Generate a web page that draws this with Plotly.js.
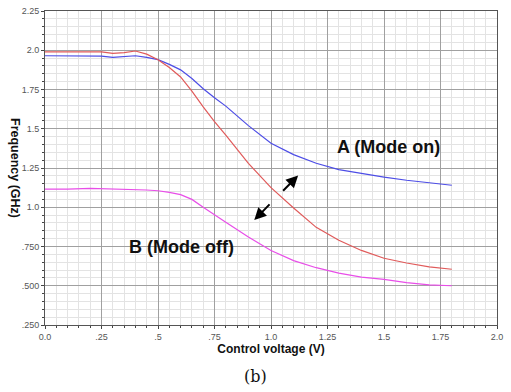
<!DOCTYPE html>
<html><head><meta charset="utf-8">
<script src="https://cdn.plot.ly/plotly-3.0.1.min.js"></script>
<style>html,body{margin:0;padding:0;background:#fff;}#c{width:511px;height:392px;}</style>
</head><body><div id="c"></div>
<script>
const voltage = [0, 0.1, 0.2, 0.25, 0.3, 0.35, 0.4, 0.45, 0.5, 0.55, 0.6, 0.65, 0.7, 0.75, 0.8, 0.9, 1.0, 1.1, 1.2, 1.3, 1.4, 1.5, 1.6, 1.7, 1.8];
const freqModeOnBlue = [1.965, 1.965, 1.965, 1.962, 1.955, 1.96, 1.965, 1.955, 1.94, 1.91, 1.875, 1.82, 1.755, 1.697, 1.644, 1.52, 1.408, 1.335, 1.28, 1.24, 1.215, 1.192, 1.172, 1.155, 1.14];
const freqModeOnRed = [1.99, 1.99, 1.99, 1.99, 1.98, 1.985, 1.995, 1.975, 1.94, 1.89, 1.83, 1.74, 1.64, 1.545, 1.46, 1.28, 1.125, 0.995, 0.872, 0.79, 0.725, 0.675, 0.645, 0.62, 0.605];
const freqModeOff = [1.115, 1.115, 1.12, 1.118, 1.115, 1.115, 1.115, 1.11, 1.105, 1.095, 1.08, 1.05, 1.0, 0.955, 0.905, 0.81, 0.725, 0.66, 0.615, 0.58, 0.555, 0.54, 0.52, 0.505, 0.5];
const xTickVals = [0, 0.25, 0.5, 0.75, 1.0, 1.25, 1.5, 1.75, 2.0];
const xTickText = ["0.0", ".25", ".5", ".75", "1.0", "1.25", "1.5", "1.75", "2.0"];
const yTickVals = [0.25, 0.5, 0.75, 1.0, 1.25, 1.5, 1.75, 2.0, 2.25];
const yTickText = [".250", ".500", ".750", "1.0", "1.25", "1.5", "1.75", "2.0", "2.25"];
const labelA = "A (Mode on)";
const labelB = "B (Mode off)";
const arrowUp = {tail: [1.047, 1.096], head: [1.12, 1.202]};
const arrowDown = {tail: [1.0, 1.028], head: [0.926, 0.918]};

const FONT = 'Arial, Liberation Sans, sans-serif';
const traces = [
  {x: voltage, y: freqModeOnBlue, mode: 'lines', line: {color: '#4d4de6', width: 1.2}, hoverinfo: 'skip'},
  {x: voltage, y: freqModeOnRed, mode: 'lines', line: {color: '#e05a5a', width: 1.2}, hoverinfo: 'skip'},
  {x: voltage, y: freqModeOff, mode: 'lines', line: {color: '#e84ee8', width: 1.2}, hoverinfo: 'skip'}
];

const axisCommon = {
  showline: true, linecolor: '#555', linewidth: 1, mirror: true,
  showgrid: true, gridcolor: '#a0a0a0', gridwidth: 1,
  ticks: 'outside', ticklen: 3, tickcolor: '#444',
  tickfont: {family: FONT, size: 9, color: '#555'},
  zeroline: false,
  tickmode: 'array'
};

const layout = {
  width: 511, height: 392,
  margin: {l: 45, r: 14, t: 11, b: 67},
  paper_bgcolor: '#fff', plot_bgcolor: '#fff',
  showlegend: false,
  xaxis: Object.assign({}, axisCommon, {
    range: [0, 2.0], tickvals: xTickVals, ticktext: xTickText,
    minor: {dtick: 0.05, tick0: 0, showgrid: true, gridcolor: '#e3e3e3', gridwidth: 1, ticks: 'outside', ticklen: 2, tickcolor: '#444'},
    title: {text: '<b>Control voltage (V)</b>', font: {family: FONT, size: 12, color: '#111'}, standoff: 3}
  }),
  yaxis: Object.assign({}, axisCommon, {
    range: [0.25, 2.25], tickvals: yTickVals, ticktext: yTickText,
    minor: {dtick: 0.05, tick0: 0, showgrid: true, gridcolor: '#e3e3e3', gridwidth: 1, ticks: 'outside', ticklen: 2, tickcolor: '#444'}
  }),
  annotations: [
    {x: -0.0664, y: 0.5, xref: 'paper', yref: 'paper', xanchor: 'center', yanchor: 'middle', text: '<b>Frequency (GHz)</b>', textangle: 90, showarrow: false, font: {family: FONT, size: 12.5, color: '#111'}},
    {x: 1.518, y: 1.383, xref: 'x', yref: 'y', text: '<b>' + labelA + '</b>', showarrow: false, font: {family: FONT, size: 18, color: '#111'}},
    {x: 0.605, y: 0.745, xref: 'x', yref: 'y', text: '<b>' + labelB + '</b>', showarrow: false, font: {family: FONT, size: 18, color: '#111'}},
    {x: arrowUp.head[0], y: arrowUp.head[1], ax: arrowUp.tail[0], ay: arrowUp.tail[1], xref: 'x', yref: 'y', axref: 'x', ayref: 'y', text: '', showarrow: true, arrowhead: 2, arrowsize: 1.2, arrowwidth: 2, arrowcolor: '#000'},
    {x: arrowDown.head[0], y: arrowDown.head[1], ax: arrowDown.tail[0], ay: arrowDown.tail[1], xref: 'x', yref: 'y', axref: 'x', ayref: 'y', text: '', showarrow: true, arrowhead: 2, arrowsize: 1.2, arrowwidth: 2, arrowcolor: '#000'},
    {x: 0.465, y: -0.165, xref: 'paper', yref: 'paper', text: '(b)', showarrow: false, yanchor: 'middle', font: {family: 'DejaVu Serif, Liberation Serif, serif', size: 16, color: '#111'}}
  ]
};

Plotly.newPlot('c', traces, layout, {staticPlot: true, displayModeBar: false});
</script>
</body></html>
